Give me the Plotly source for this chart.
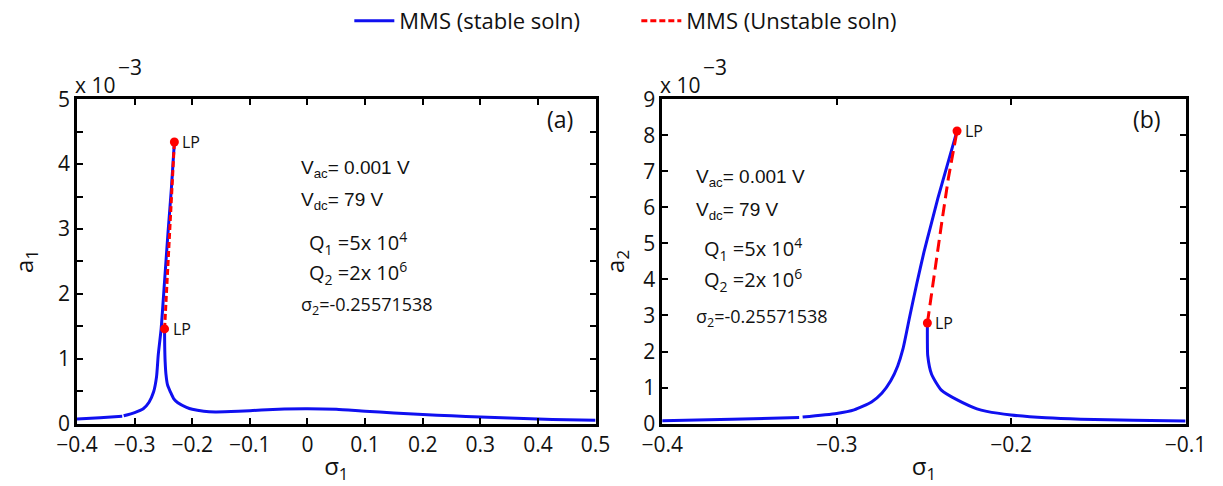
import plotly.graph_objects as go

# ---------------- Panel (a): a1 (x 10^-3) vs sigma1 ----------------
sig_a_up = [-0.40, -0.36, -0.3215, None, -0.3190, -0.30, -0.285, -0.275, -0.267, -0.262,
            -0.259, -0.254, -0.248, -0.242, -0.236, -0.231]
a1_up = [0.07, 0.09, 0.115, None, 0.12, 0.17, 0.23, 0.33, 0.49, 0.72,
         1.06, 1.46, 2.2, 2.95, 3.65, 4.34]

sig_a_low = [-0.248, -0.2478, -0.247, -0.2455, -0.243, -0.238, -0.232, -0.225, -0.21, -0.20,
             -0.18, -0.16, -0.12, -0.08, -0.04, 0.0, 0.05, 0.10, 0.15, 0.20,
             0.25, 0.30, 0.35, 0.40, 0.45, 0.50]
a1_low = [1.46, 1.2, 0.95, 0.75, 0.6, 0.49, 0.38, 0.32, 0.25, 0.22,
          0.19, 0.18, 0.19, 0.21, 0.225, 0.23, 0.22, 0.19, 0.165, 0.14,
          0.12, 0.10, 0.085, 0.07, 0.06, 0.05]

sig_a_unst = [-0.248, -0.244, -0.240, -0.235, -0.231]
a1_unst = [1.46, 2.15, 2.85, 3.6, 4.34]

lp_sig_a = [-0.231, -0.248]
lp_a1 = [4.34, 1.46]

# ---------------- Panel (b): a2 (x 10^-3) vs sigma1 ----------------
sig_b_up = [-0.40, -0.36, -0.3215, None, -0.3195, -0.30, -0.29, -0.28, -0.274, -0.269,
            -0.265, -0.262, -0.258, -0.254, -0.250, -0.246, -0.242, -0.237, -0.231]
a2_up = [0.08, 0.12, 0.17, None, 0.18, 0.28, 0.38, 0.6, 0.85, 1.19,
         1.6, 2.07, 3.0, 3.9, 4.75, 5.5, 6.25, 7.1, 8.12]

sig_b_low = [-0.248, -0.248, -0.2478, -0.2456, -0.240, -0.2306, -0.2196, -0.214, -0.20, -0.18,
             -0.16, -0.13, -0.10]
a2_low = [2.79, 2.3, 1.89, 1.37, 0.93, 0.65, 0.41, 0.34, 0.24, 0.16,
          0.12, 0.09, 0.07]

sig_b_unst = [-0.248, -0.244, -0.240, -0.236, -0.231]
a2_unst = [2.79, 4.2, 5.5, 6.8, 8.12]

lp_sig_b = [-0.231, -0.248]
lp_a2 = [8.12, 2.79]

xticks_a = [-0.4, -0.3, -0.2, -0.1, 0, 0.1, 0.2, 0.3, 0.4, 0.5]
yticks_a = [0, 1, 2, 3, 4, 5]
xticks_b = [-0.4, -0.3, -0.2, -0.1]
yticks_b = [0, 1, 2, 3, 4, 5, 6, 7, 8, 9]

BLUE = "#1010f0"
RED = "#ff0000"
FONT = "Open Sans"
TXT = "#111111"
W, H = 1223, 486

fig = go.Figure()

line_blue = dict(color=BLUE, width=3, shape="spline", smoothing=0.6)

fig.add_trace(go.Scatter(x=sig_a_up, y=a1_up, mode="lines", line=line_blue,
                         name="MMS (stable soln)", showlegend=True, xaxis="x", yaxis="y",
                         connectgaps=False))
fig.add_trace(go.Scatter(x=sig_a_low, y=a1_low, mode="lines", line=line_blue,
                         showlegend=False, xaxis="x", yaxis="y"))
fig.add_trace(go.Scatter(x=sig_a_unst, y=a1_unst, mode="lines",
                         line=dict(color=RED, width=3, dash="6px,3px"),
                         name="MMS (Unstable soln)", showlegend=True, xaxis="x", yaxis="y"))
fig.add_trace(go.Scatter(x=lp_sig_a, y=lp_a1, mode="markers",
                         marker=dict(color=RED, size=9), showlegend=False,
                         xaxis="x", yaxis="y"))

fig.add_trace(go.Scatter(x=sig_b_up, y=a2_up, mode="lines", line=line_blue,
                         showlegend=False, xaxis="x2", yaxis="y2", connectgaps=False))
fig.add_trace(go.Scatter(x=sig_b_low, y=a2_low, mode="lines", line=line_blue,
                         showlegend=False, xaxis="x2", yaxis="y2"))
fig.add_trace(go.Scatter(x=sig_b_unst, y=a2_unst, mode="lines",
                         line=dict(color=RED, width=3, dash="12px,6px"),
                         showlegend=False, xaxis="x2", yaxis="y2"))
fig.add_trace(go.Scatter(x=lp_sig_b, y=lp_a2, mode="markers",
                         marker=dict(color=RED, size=9), showlegend=False,
                         xaxis="x2", yaxis="y2"))

dom_a = [58 / W, 595 / W]
dom_b = [664 / W, 1206 / W]
dom_y = [(H - 433) / H, (H - 85) / H]

axis_common = dict(showline=True, linecolor="black", linewidth=2.5, mirror="allticks",
                   ticks="inside", ticklen=6, tickwidth=2, tickcolor="black",
                   showgrid=False, zeroline=False,
                   tickfont=dict(family=FONT, size=21, color=TXT))

fig.update_layout(
    width=W, height=H, autosize=False,
    margin=dict(l=0, r=0, t=0, b=0),
    paper_bgcolor="white", plot_bgcolor="white",
    font=dict(family=FONT, color=TXT),
    xaxis=dict(domain=dom_a, range=[-0.4, 0.5], tickvals=xticks_a, anchor="y",
               title=dict(text="σ<sub>1</sub>", font=dict(size=24), standoff=2),
               **axis_common),
    yaxis=dict(domain=dom_y, range=[0, 5], tickvals=yticks_a, anchor="x",
               minor=dict(dtick=0.5, ticks="inside", ticklen=6, tickwidth=2, tickcolor="black"),
               title=dict(text="a<sub>1</sub>", font=dict(size=24), standoff=18),
               **axis_common),
    xaxis2=dict(domain=dom_b, range=[-0.4, -0.1], tickvals=xticks_b, anchor="y2",
                title=dict(text="σ<sub>1</sub>", font=dict(size=24), standoff=2),
                **axis_common),
    yaxis2=dict(domain=dom_y, range=[0, 9], tickvals=yticks_b, anchor="x2",
                title=dict(text="a<sub>2</sub>", font=dict(size=24), standoff=12),
                **axis_common),
    legend=dict(orientation="h", x=340 / W, xanchor="left", y=1.045, yanchor="top",
                font=dict(family=FONT, size=22, color=TXT),
                bgcolor="rgba(0,0,0,0)", entrywidth=232, entrywidthmode="pixels",
                itemwidth=40),
)

ann = []
# x10^-3 multipliers
for xl in (58, 664):
    ann.append(dict(text="x 10", xref="paper", yref="paper",
                    x=(xl - 4) / W, y=(H - 70) / H, xanchor="left", yanchor="middle",
                    showarrow=False, font=dict(family=FONT, size=21, color=TXT)))
    ann.append(dict(text="−3", xref="paper", yref="paper",
                    x=(xl + 40) / W, y=(H - 50) / H, xanchor="left", yanchor="middle",
                    showarrow=False, font=dict(family=FONT, size=21, color=TXT)))
# panel labels
ann.append(dict(text="(a)", xref="paper", yref="paper", x=558 / W, y=(H - 106) / H,
                xanchor="center", yanchor="middle", showarrow=False,
                font=dict(family=FONT, size=23, color=TXT)))
ann.append(dict(text="(b)", xref="paper", yref="paper", x=1166 / W, y=(H - 106) / H,
                xanchor="center", yanchor="middle", showarrow=False,
                font=dict(family=FONT, size=23, color=TXT)))

# LP labels
for xr, yr, xs, ys in (("x", "y", lp_sig_a, lp_a1), ("x2", "y2", lp_sig_b, lp_a2)):
    for sx, sy in zip(xs, ys):
        ann.append(dict(text="LP", xref=xr, yref=yr, x=sx, y=sy, xanchor="left",
                        yanchor="middle", xshift=6, showarrow=False,
                        font=dict(family=FONT, size=16, color=TXT)))


# parameter text blocks
def params(x0, ys):
    out = []
    txts = [("V<sub>ac</sub>= 0.001 V", "Liberation Sans", 19, 0),
            ("V<sub>dc</sub>= 79 V", "Liberation Sans", 19, 0),
            ("Q<sub>1</sub> =5x 10<sup>4</sup>", FONT, 20, 8),
            ("Q<sub>2</sub> =2x 10<sup>6</sup>", FONT, 20, 8),
            ("σ<sub>2</sub>=-0.25571538", FONT, 18, 0)]
    for (t, f, s, dx), yy in zip(txts, ys):
        out.append(dict(text=t, xref="paper", yref="paper", x=(x0 + dx) / W,
                        y=(H - yy) / H, xanchor="left", yanchor="middle",
                        showarrow=False, font=dict(family=f, size=s, color=TXT)))
    return out


ann += params(288, [160, 194, 239, 271, 306])
ann += params(697, [170, 205, 246, 279, 319])

fig.update_layout(annotations=ann)

fig.write_html("out.html")
